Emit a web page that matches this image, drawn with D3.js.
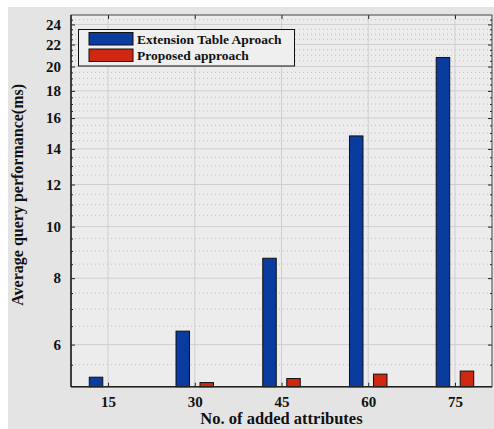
<!DOCTYPE html>
<html><head><meta charset="utf-8">
<script src="https://cdn.jsdelivr.net/npm/d3@7"></script>
<style>
html,body{margin:0;padding:0;background:#fff;}
svg{display:block;}
text{font-family:"Liberation Serif","Times New Roman",serif;font-weight:bold;fill:#111;}
</style></head>
<body>
<svg id="chart" width="494" height="429"></svg>
<script>
const categories = ["15", "30", "45", "60", "75"];
const seriesNames = ["Extension Table Aproach", "Proposed approach"];
const extensionTable = [5.21, 6.36, 8.72, 14.81, 20.8];
const proposed = [4.95, 5.09, 5.18, 5.28, 5.35];
const yTicks = [6, 8, 10, 12, 14, 16, 18, 20, 22, 24];
const yMinorTicks = d3.range(5.5, 25, 0.5).filter(v => !yTicks.includes(v));
const colors = ["#0a3b9f", "#d02810"];
const xTitle = "No. of added attributes";
const yTitle = "Average query performance(ms)";

const svg = d3.select("#chart");
const W = 494, H = 429;
const m = {left: 71, top: 15, right: 492, bottom: 386.7};

svg.append("rect").attr("x", 8).attr("y", 7).attr("width", W - 8).attr("height", H - 7).attr("fill", "#e4e4e4");
svg.append("rect").attr("x", m.left).attr("y", m.top).attr("width", m.right - m.left).attr("height", m.bottom - m.top).attr("fill", "#ececec");

const x = d3.scalePoint().domain(categories).range([m.left, m.right]).padding(0.427);
const xs = d3.scaleBand().domain([0, 1]).range([-18.75, 18.75]).paddingInner(0.4375);
const y = d3.scaleLog().domain([5, 25]).range([m.bottom, m.top]).clamp(true);

const g = svg.append("g");
g.selectAll("line.minor").data(yMinorTicks).join("line")
  .attr("x1", m.left).attr("x2", m.right)
  .attr("y1", d => y(d)).attr("y2", d => y(d))
  .attr("stroke", "#b4b4b4").attr("stroke-width", 0.8).attr("stroke-dasharray", "1,3");
g.selectAll("line.major").data(yTicks).join("line")
  .attr("x1", m.left).attr("x2", m.right)
  .attr("y1", d => y(d)).attr("y2", d => y(d))
  .attr("stroke", "#cfcfcf").attr("stroke-width", 1);
g.selectAll("line.vgrid").data(categories).join("line")
  .attr("x1", d => x(d)).attr("x2", d => x(d))
  .attr("y1", m.top).attr("y2", m.bottom)
  .attr("stroke", "#cfcfcf").attr("stroke-width", 1);

const series = [extensionTable, proposed];
series.forEach((vals, si) => {
  svg.append("g").selectAll("rect").data(vals).join("rect")
    .attr("x", (d, i) => x(categories[i]) + xs(si))
    .attr("width", xs.bandwidth())
    .attr("y", d => y(d))
    .attr("height", d => Math.max(0, y(5) - y(d)))
    .attr("fill", colors[si])
    .attr("stroke", "#111").attr("stroke-width", 1)
    .attr("display", d => d <= 5 ? "none" : null);
});

const axL = d3.axisLeft(y).tickValues(yTicks).tickFormat(d3.format("d")).tickSizeInner(-4).tickSizeOuter(0).tickPadding(10);
const axLm = d3.axisLeft(y).tickValues(yMinorTicks).tickFormat("").tickSizeInner(-2).tickSizeOuter(0);
const axR = d3.axisRight(y).tickValues(yTicks).tickFormat("").tickSizeInner(-4).tickSizeOuter(0);
const axRm = d3.axisRight(y).tickValues(yMinorTicks).tickFormat("").tickSizeInner(-2).tickSizeOuter(0);
const axB = d3.axisBottom(x).tickSizeInner(-4).tickSizeOuter(0).tickPadding(10);
const axT = d3.axisTop(x).tickFormat("").tickSizeInner(-4).tickSizeOuter(0);

function style(sel, fs) {
  sel.select(".domain").remove();
  sel.selectAll("line").attr("stroke", "#222");
  sel.selectAll("text").style("font-size", fs + "px").attr("fill", "#111");
}
svg.append("g").attr("transform", `translate(${m.left},0)`).call(axLm).call(style, 15);
svg.append("g").attr("transform", `translate(${m.left},0)`).call(axL).call(style, 15);
svg.append("g").attr("transform", `translate(${m.right},0)`).call(axRm).call(style, 15);
svg.append("g").attr("transform", `translate(${m.right},0)`).call(axR).call(style, 15);
svg.append("g").attr("transform", `translate(0,${m.bottom})`).call(axB).call(style, 15);
svg.append("g").attr("transform", `translate(0,${m.top})`).call(axT).call(style, 15);

svg.append("rect").attr("x", m.left).attr("y", m.top).attr("width", m.right - m.left).attr("height", m.bottom - m.top)
  .attr("fill", "none").attr("stroke", "#444").attr("stroke-width", 1);
svg.append("line").attr("x1", m.left).attr("x2", m.left).attr("y1", m.top).attr("y2", m.bottom).attr("stroke", "#222").attr("stroke-width", 1.5);
svg.append("line").attr("x1", m.left).attr("x2", m.right).attr("y1", m.bottom).attr("y2", m.bottom).attr("stroke", "#222").attr("stroke-width", 1.5);

svg.append("text").attr("x", (m.left + m.right) / 2).attr("y", 424).attr("text-anchor", "middle")
  .style("font-size", "16.5px").text(xTitle);
svg.append("text").attr("transform", `translate(23,${(m.top + m.bottom) / 2 - 6}) rotate(-90)`).attr("text-anchor", "middle")
  .style("font-size", "16px").text(yTitle);

const lg = svg.append("g");
lg.append("rect").attr("x", 78.5).attr("y", 29.5).attr("width", 216).attr("height", 36.5)
  .attr("fill", "#efefef").attr("stroke", "#111").attr("stroke-width", 1);
seriesNames.forEach((n, i) => {
  lg.append("rect").attr("x", 89).attr("y", 32.5 + i * 16.5).attr("width", 44).attr("height", 12.5)
    .attr("fill", colors[i]).attr("stroke", "#111").attr("stroke-width", 1);
  lg.append("text").attr("x", 137).attr("y", 43.5 + i * 16.5).style("font-size", "13.5px").text(n);
});
</script>
</body></html>
